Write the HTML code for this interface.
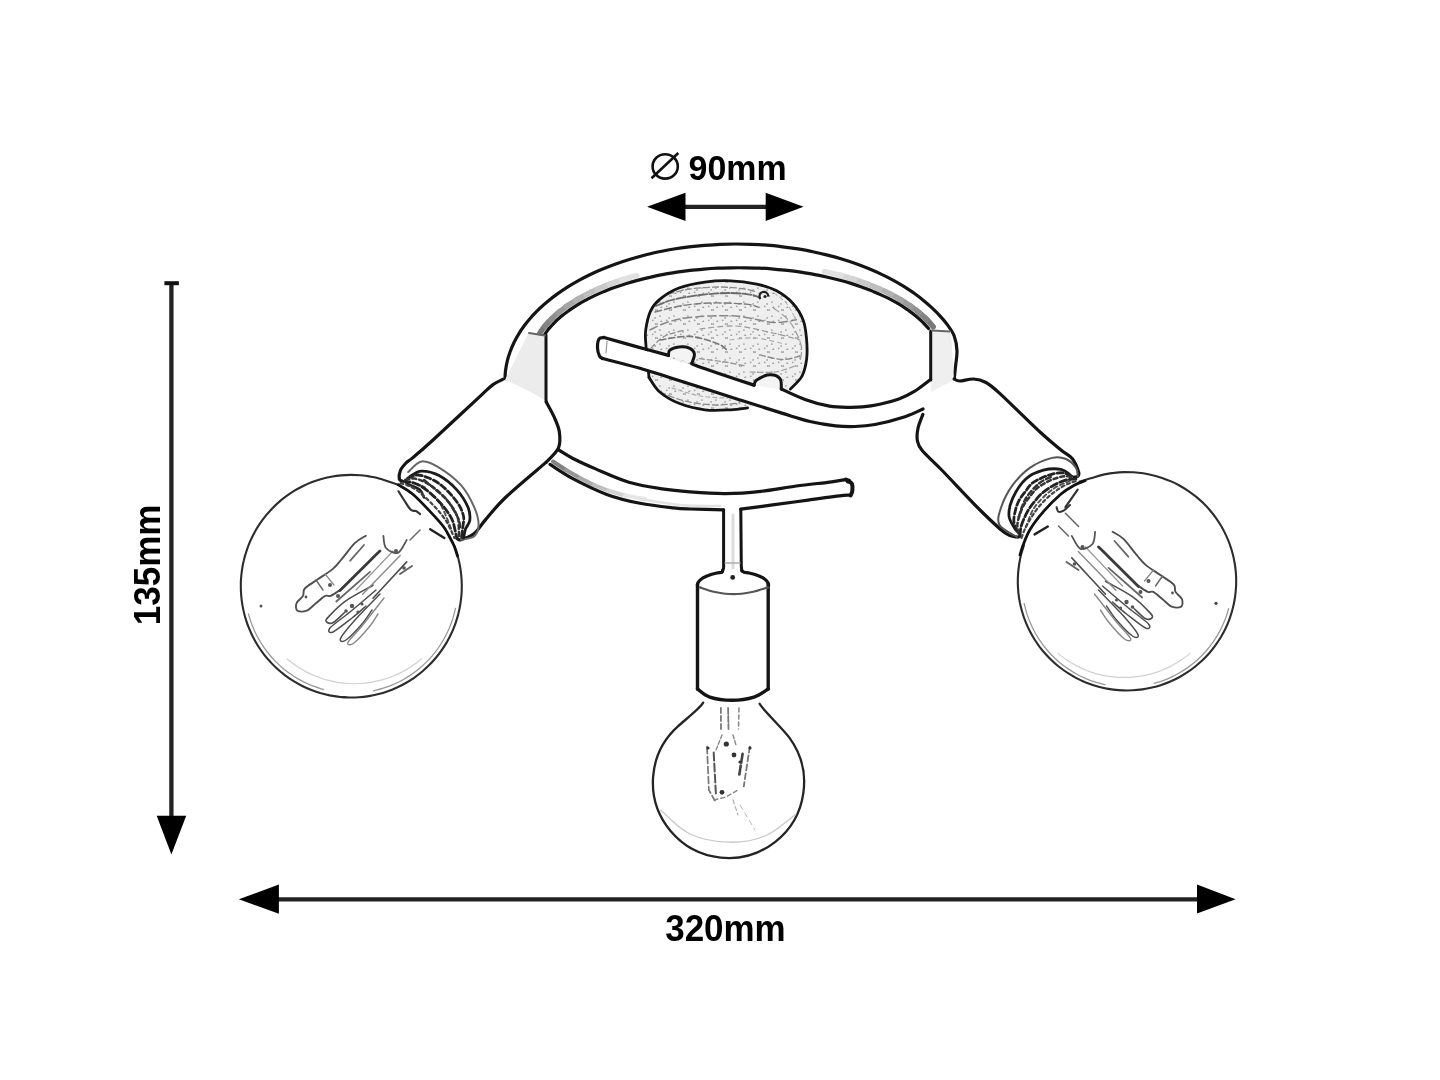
<!DOCTYPE html>
<html><head><meta charset="utf-8"><style>
html,body{margin:0;padding:0;background:#fff;}
body{width:1440px;height:1080px;overflow:hidden;font-family:"Liberation Sans",sans-serif;}
svg{display:block;filter:grayscale(1) blur(0.35px);}
</style></head><body>
<svg width="1440" height="1080" viewBox="0 0 1440 1080">
<rect width="1440" height="1080" fill="#fff"/>
<line x1="684" y1="206.8" x2="767" y2="206.8" stroke="#222" stroke-width="4.2"/>
<polygon points="647.1,206.8 685.5,192.7 685.5,221" fill="#000"/>
<polygon points="803.5,206.8 765.7,192.7 765.7,221" fill="#000"/>
<line x1="171.4" y1="283" x2="171.4" y2="817" stroke="#222" stroke-width="4.3"/>
<line x1="164.4" y1="283.2" x2="178.9" y2="283.2" stroke="#111" stroke-width="4"/>
<polygon points="156.7,815.8 186.2,815.8 171.4,854.6" fill="#000"/>
<line x1="278" y1="899.3" x2="1198" y2="899.3" stroke="#222" stroke-width="4.2"/>
<polygon points="238.9,899.3 278.9,884.4 278.9,913.7" fill="#000"/>
<polygon points="1235.6,899.3 1197,884.6 1197,913.5" fill="#000"/>
<text x="688.6" y="179.6" font-family="Liberation Sans, sans-serif" font-weight="bold" font-size="34.8" fill="#000" textLength="98" lengthAdjust="spacingAndGlyphs">90mm</text>
<ellipse cx="665.2" cy="166.4" rx="12.6" ry="12.2" fill="none" stroke="#111" stroke-width="2.6"/>
<line x1="651.5" y1="178.2" x2="678.3" y2="153" stroke="#111" stroke-width="2.6"/>
<text x="665.2" y="940.8" font-family="Liberation Sans, sans-serif" font-weight="bold" font-size="36.6" fill="#000" textLength="120.5" lengthAdjust="spacingAndGlyphs">320mm</text>
<text transform="translate(159.6,625.2) rotate(-90)" x="0" y="0" font-family="Liberation Sans, sans-serif" font-weight="bold" font-size="36.6" fill="#000" textLength="120.5" lengthAdjust="spacingAndGlyphs">135mm</text>
<path d="M539.7,333.3 C540.0,332.9 540.9,331.5 541.5,330.6 C542.2,329.7 542.8,328.8 543.5,327.9 C544.2,327.0 545.3,325.6 545.7,325.2" fill="none" stroke="#787878" stroke-width="5.5" stroke-linecap="round" stroke-linejoin="round" stroke-linecap="butt"/>
<path d="M544.8,326.2 C545.2,325.8 546.3,324.5 547.1,323.6 C547.9,322.7 548.7,321.8 549.5,321.0 C550.3,320.1 551.6,318.8 552.1,318.4" fill="none" stroke="#838383" stroke-width="5.5" stroke-linecap="round" stroke-linejoin="round" stroke-linecap="butt"/>
<path d="M551.0,319.4 C551.5,318.9 552.8,317.7 553.7,316.8 C554.6,316.0 555.6,315.1 556.5,314.3 C557.5,313.4 559.0,312.2 559.5,311.8" fill="none" stroke="#8f8f8f" stroke-width="5.5" stroke-linecap="round" stroke-linejoin="round" stroke-linecap="butt"/>
<path d="M558.3,312.8 C558.8,312.3 560.3,311.1 561.4,310.3 C562.4,309.5 563.5,308.7 564.6,307.9 C565.7,307.1 567.4,305.9 567.9,305.5" fill="none" stroke="#9b9b9b" stroke-width="5.5" stroke-linecap="round" stroke-linejoin="round" stroke-linecap="butt"/>
<path d="M566.6,306.4 C567.2,306.0 568.9,304.8 570.0,304.1 C571.2,303.3 572.4,302.5 573.6,301.8 C574.8,301.0 576.7,299.9 577.3,299.5" fill="none" stroke="#a6a6a6" stroke-width="5.5" stroke-linecap="round" stroke-linejoin="round" stroke-linecap="butt"/>
<path d="M575.9,300.4 C576.5,300.0 578.4,298.9 579.7,298.2 C580.9,297.4 582.3,296.7 583.6,296.0 C584.9,295.3 587.0,294.2 587.6,293.9" fill="none" stroke="#b2b2b2" stroke-width="5.5" stroke-linecap="round" stroke-linejoin="round" stroke-linecap="butt"/>
<path d="M586.0,294.7 C586.7,294.3 588.8,293.3 590.2,292.6 C591.6,291.9 593.0,291.3 594.4,290.6 C595.9,289.9 598.1,289.0 598.8,288.6" fill="none" stroke="#bebebe" stroke-width="5.5" stroke-linecap="round" stroke-linejoin="round" stroke-linecap="butt"/>
<path d="M597.1,289.4 C597.8,289.1 600.0,288.1 601.5,287.5 C603.0,286.8 604.5,286.2 606.1,285.6 C607.6,285.0 610.0,284.1 610.7,283.8" fill="none" stroke="#c9c9c9" stroke-width="5.5" stroke-linecap="round" stroke-linejoin="round" stroke-linecap="butt"/>
<path d="M608.9,284.5 C609.7,284.2 612.0,283.3 613.6,282.7 C615.2,282.2 616.9,281.6 618.5,281.1 C620.1,280.5 622.6,279.7 623.4,279.4" fill="none" stroke="#d5d5d5" stroke-width="5.5" stroke-linecap="round" stroke-linejoin="round" stroke-linecap="butt"/>
<path d="M621.5,280.1 C622.3,279.8 624.8,279.0 626.5,278.5 C628.2,278.0 629.8,277.5 631.6,277.0 C633.3,276.5 635.9,275.8 636.7,275.5" fill="none" stroke="#e1e1e1" stroke-width="5.5" stroke-linecap="round" stroke-linejoin="round" stroke-linecap="butt"/>
<path d="M933.2,326.7 C932.8,326.3 931.7,324.9 930.9,324.0 C930.1,323.1 929.3,322.2 928.4,321.3 C927.6,320.4 926.3,319.1 925.8,318.7" fill="none" stroke="#787878" stroke-width="5.5" stroke-linecap="round" stroke-linejoin="round" stroke-linecap="butt"/>
<path d="M926.9,319.7 C926.4,319.3 925.1,317.9 924.2,317.1 C923.2,316.2 922.3,315.3 921.3,314.5 C920.3,313.6 918.8,312.3 918.3,311.9" fill="none" stroke="#838383" stroke-width="5.5" stroke-linecap="round" stroke-linejoin="round" stroke-linecap="butt"/>
<path d="M919.5,312.9 C918.9,312.5 917.4,311.2 916.3,310.4 C915.3,309.5 914.2,308.7 913.1,307.9 C911.9,307.1 910.2,305.9 909.6,305.5" fill="none" stroke="#8f8f8f" stroke-width="5.5" stroke-linecap="round" stroke-linejoin="round" stroke-linecap="butt"/>
<path d="M911.0,306.4 C910.4,306.0 908.7,304.8 907.5,304.0 C906.3,303.2 905.1,302.4 903.8,301.6 C902.6,300.9 900.6,299.7 900.0,299.3" fill="none" stroke="#9b9b9b" stroke-width="5.5" stroke-linecap="round" stroke-linejoin="round" stroke-linecap="butt"/>
<path d="M901.5,300.2 C900.9,299.9 898.9,298.7 897.6,298.0 C896.3,297.2 895.0,296.5 893.6,295.8 C892.2,295.0 890.1,294.0 889.4,293.6" fill="none" stroke="#a6a6a6" stroke-width="5.5" stroke-linecap="round" stroke-linejoin="round" stroke-linecap="butt"/>
<path d="M891.1,294.4 C890.4,294.1 888.3,293.0 886.8,292.3 C885.4,291.6 883.9,290.9 882.4,290.3 C881.0,289.6 878.7,288.6 878.0,288.3" fill="none" stroke="#b2b2b2" stroke-width="5.5" stroke-linecap="round" stroke-linejoin="round" stroke-linecap="butt"/>
<path d="M879.7,289.0 C879.0,288.7 876.7,287.7 875.2,287.1 C873.6,286.4 872.0,285.8 870.5,285.2 C868.9,284.6 866.5,283.7 865.7,283.4" fill="none" stroke="#bebebe" stroke-width="5.5" stroke-linecap="round" stroke-linejoin="round" stroke-linecap="butt"/>
<path d="M867.6,284.1 C866.7,283.8 864.3,282.9 862.7,282.3 C861.0,281.7 859.4,281.1 857.7,280.6 C856.0,280.0 853.5,279.2 852.6,278.9" fill="none" stroke="#c9c9c9" stroke-width="5.5" stroke-linecap="round" stroke-linejoin="round" stroke-linecap="butt"/>
<path d="M854.6,279.6 C853.8,279.3 851.2,278.5 849.5,278.0 C847.7,277.4 846.0,276.9 844.2,276.4 C842.5,275.9 839.8,275.2 838.9,275.0" fill="none" stroke="#d5d5d5" stroke-width="5.5" stroke-linecap="round" stroke-linejoin="round" stroke-linecap="butt"/>
<path d="M841.0,275.6 C840.1,275.3 837.4,274.6 835.6,274.1 C833.8,273.7 832.0,273.3 830.2,272.8 C828.3,272.4 825.5,271.8 824.6,271.6" fill="none" stroke="#e1e1e1" stroke-width="5.5" stroke-linecap="round" stroke-linejoin="round" stroke-linecap="butt"/>
<path d="M504.9,379.2 C505.0,377.7 505.2,373.0 505.6,370.0 C506.0,366.9 506.6,363.8 507.3,360.8 C508.1,357.7 509.0,354.7 510.1,351.7 C511.2,348.6 512.5,345.7 513.9,342.7 C515.4,339.7 517.0,336.8 518.8,333.9 C520.5,331.0 522.5,328.1 524.6,325.3 C526.7,322.5 529.0,319.7 531.4,317.0 C533.9,314.2 536.5,311.6 539.2,308.9 C541.9,306.3 544.8,303.7 547.9,301.2 C550.9,298.7 554.1,296.3 557.4,293.9 C560.7,291.5 564.2,289.2 567.8,286.9 C571.3,284.7 575.1,282.5 578.9,280.4 C582.7,278.3 586.7,276.3 590.8,274.3 C594.8,272.4 599.0,270.5 603.3,268.8 C607.6,267.0 612.0,265.3 616.4,263.7 C620.9,262.1 625.5,260.6 630.1,259.2 C634.8,257.8 639.5,256.5 644.3,255.2 C649.1,254.0 654.0,252.9 658.9,251.8 C663.8,250.8 668.8,249.9 673.9,249.0 C678.9,248.2 684.0,247.5 689.1,246.9 C694.2,246.2 699.4,245.7 704.6,245.3 C709.7,244.9 715.0,244.5 720.2,244.3 C725.4,244.1 730.6,244.0 735.8,244.0 C741.1,244.0 746.3,244.1 751.5,244.3 C756.7,244.5 762.0,244.8 767.1,245.2 C772.3,245.6 777.5,246.2 782.6,246.8 C787.7,247.4 792.8,248.1 797.9,248.9 C802.9,249.8 807.9,250.7 812.8,251.7 C817.8,252.7 822.7,253.8 827.5,255.1 C832.3,256.3 837.0,257.6 841.7,259.0 C846.3,260.4 850.9,261.9 855.4,263.5 C859.9,265.1 864.3,266.8 868.5,268.5 C872.8,270.3 877.0,272.1 881.1,274.1 C885.2,276.0 889.1,278.0 893.0,280.1 C896.8,282.2 900.6,284.4 904.2,286.6 C907.7,288.9 911.2,291.2 914.5,293.5 C917.9,295.9 921.1,298.4 924.1,300.9 C927.2,303.4 930.1,306.0 932.8,308.6 C935.6,311.2 938.2,313.9 940.6,316.6 C943.1,319.3 945.2,321.7 947.5,324.9 C949.8,328.2 952.6,331.7 954.2,336.0 C955.8,340.3 956.8,345.6 957.0,350.6 C957.2,355.6 956.1,361.1 955.6,365.8 C955.1,370.5 954.4,376.8 954.2,379.0" fill="none" stroke="#141414" stroke-width="3.2" stroke-linecap="round" stroke-linejoin="round" />
<path d="M544.5,334.8 C545.2,333.8 547.4,330.6 549.0,328.6 C550.7,326.6 552.5,324.6 554.5,322.6 C556.4,320.6 558.5,318.7 560.8,316.8 C563.0,314.9 565.4,313.0 568.0,311.2 C570.5,309.3 573.1,307.6 575.9,305.8 C578.7,304.1 581.6,302.4 584.7,300.7 C587.7,299.1 590.9,297.5 594.1,295.9 C597.4,294.4 600.8,292.9 604.3,291.4 C607.8,290.0 611.4,288.6 615.1,287.3 C618.8,286.0 622.6,284.7 626.5,283.5 C630.4,282.3 634.3,281.2 638.4,280.1 C642.4,279.0 646.6,278.0 650.8,277.1 C655.0,276.1 659.3,275.2 663.6,274.4 C667.9,273.6 672.3,272.9 676.8,272.2 C681.2,271.6 685.7,271.0 690.2,270.4 C694.7,269.9 699.3,269.5 703.9,269.1 C708.5,268.7 713.1,268.4 717.8,268.2 C722.4,268.0 727.1,267.8 731.7,267.8 C736.4,267.7 741.0,267.7 745.7,267.8 C750.4,267.8 755.0,268.0 759.6,268.2 C764.3,268.4 768.9,268.7 773.5,269.1 C778.1,269.5 782.7,269.9 787.2,270.4 C791.7,270.9 796.2,271.5 800.7,272.2 C805.1,272.9 809.5,273.6 813.8,274.4 C818.2,275.2 822.4,276.1 826.6,277.0 C830.8,278.0 835.0,279.0 839.0,280.0 C843.1,281.1 847.1,282.2 851.0,283.4 C854.8,284.6 858.6,285.9 862.3,287.2 C866.0,288.6 869.7,289.9 873.1,291.4 C876.6,292.8 880.0,294.3 883.3,295.9 C886.6,297.4 889.8,299.0 892.8,300.7 C895.8,302.3 898.8,304.0 901.6,305.7 C904.3,307.5 907.0,309.3 909.5,311.1 C912.1,312.9 914.5,314.8 916.7,316.7 C919.0,318.6 921.1,320.5 923.0,322.5 C925.0,324.5 927.6,327.5 928.5,328.5" fill="none" stroke="#141414" stroke-width="3.2" stroke-linecap="round" stroke-linejoin="round" />
<path d="M528.0,334.0 L545.0,336.0 L546.0,400.0 L520.0,395.0 L505.0,380.0" fill="#ececec" stroke="none"/>
<path d="M931.0,331.0 L951.0,332.0 L954.0,380.0 L931.0,392.0" fill="#efefef" stroke="none"/>
<path d="M546.0,335.0 L546.0,401.5" fill="none" stroke="#141414" stroke-width="3" stroke-linecap="round" stroke-linejoin="round" />
<path d="M930.7,331.0 L930.7,380.0" fill="none" stroke="#141414" stroke-width="3" stroke-linecap="round" stroke-linejoin="round" />
<path d="M529.0,333.0 L545.0,335.5" fill="none" stroke="#666" stroke-width="2" stroke-linecap="round" stroke-linejoin="round" />
<path d="M932.0,330.5 L950.0,331.5" fill="none" stroke="#666" stroke-width="2" stroke-linecap="round" stroke-linejoin="round" />
<defs><pattern id="spk" width="14" height="14" patternUnits="userSpaceOnUse"><rect width="14" height="14" fill="#efefef"/><circle cx="11.8" cy="2.0" r="0.9" fill="#a2a2a2"/><circle cx="1.9" cy="8.1" r="0.9" fill="#a2a2a2"/><circle cx="13.4" cy="2.1" r="0.9" fill="#a2a2a2"/><circle cx="3.3" cy="13.7" r="0.9" fill="#a2a2a2"/><circle cx="3.3" cy="13.4" r="0.9" fill="#a2a2a2"/><circle cx="8.7" cy="12.3" r="0.9" fill="#a2a2a2"/><circle cx="11.1" cy="9.9" r="0.9" fill="#a2a2a2"/></pattern></defs>
<path d="M649.0,377.4 C646.7,369.4 646.3,351.7 645.8,343.7 C645.3,335.7 645.0,334.8 645.8,329.4 C646.6,324.0 648.1,316.3 650.4,311.3 C652.7,306.3 654.6,303.5 659.4,299.6 C664.1,295.7 671.3,290.9 678.9,288.0 C686.5,285.1 696.2,283.3 704.8,282.1 C713.4,280.9 722.1,280.5 730.7,280.8 C739.4,281.1 749.1,282.5 756.7,284.1 C764.3,285.7 770.1,287.4 776.1,290.6 C782.1,293.8 788.5,298.5 793.0,303.5 C797.5,308.5 801.0,314.3 803.3,320.4 C805.6,326.4 806.0,333.3 806.6,339.8 C807.2,346.3 807.4,353.2 806.6,359.3 C805.8,365.4 804.7,371.1 802.0,376.1 C799.3,381.1 794.9,385.5 790.4,389.1 C785.9,392.8 780.1,395.4 775.0,398.0 C769.9,400.6 764.6,403.4 760.0,405.0 C755.4,406.6 752.5,407.1 747.6,407.9 C742.7,408.7 737.8,409.5 730.7,409.8 C723.6,410.1 713.4,410.9 704.8,409.8 C696.2,408.7 686.5,406.3 678.9,403.3 C671.3,400.3 664.4,396.0 659.4,391.7 C654.4,387.4 651.3,385.4 649.0,377.4 Z" fill="url(#spk)" stroke="none"/>
<path d="M656.0,306.0 C658.7,305.0 664.7,301.8 672.0,300.0 C679.3,298.2 690.3,296.2 700.0,295.0 C709.7,293.8 721.3,293.0 730.0,293.0 C738.7,293.0 747.0,294.2 752.0,295.0 C757.0,295.8 758.7,297.5 760.0,298.0" fill="none" stroke="#6a6a6a" stroke-width="1.8" stroke-linecap="round" stroke-linejoin="round" stroke-dasharray="9 2"/>
<path d="M668.0,294.0 C671.7,293.2 681.3,290.2 690.0,289.0 C698.7,287.8 710.8,287.0 720.0,287.0 C729.2,287.0 739.0,288.2 745.0,289.0 C751.0,289.8 754.2,291.5 756.0,292.0" fill="none" stroke="#8a8a8a" stroke-width="1.3" stroke-linecap="round" stroke-linejoin="round" stroke-dasharray="6 3"/>
<path d="M655.0,312.0 C659.2,311.0 670.8,307.5 680.0,306.0 C689.2,304.5 699.2,303.3 710.0,303.0 C720.8,302.7 737.0,303.3 745.0,304.0 C753.0,304.7 755.8,306.5 758.0,307.0" fill="none" stroke="#7a7a7a" stroke-width="1.4" stroke-linecap="round" stroke-linejoin="round" stroke-dasharray="7 3"/>
<path d="M650.0,330.0 C653.0,328.7 660.6,324.2 668.0,322.0 C675.4,319.8 683.3,318.0 694.6,317.0 C705.9,316.0 722.9,315.1 736.0,316.0 C749.1,316.9 762.9,321.8 773.0,322.4 C783.1,323.0 792.6,320.2 796.5,319.8" fill="none" stroke="#888" stroke-width="1.5" stroke-linecap="round" stroke-linejoin="round" stroke-dasharray="8 4"/>
<path d="M660.0,340.0 C665.0,339.4 680.4,335.8 690.0,336.4 C699.6,337.0 711.6,341.5 717.8,343.8 C724.0,346.1 725.5,349.0 727.0,350.0" fill="none" stroke="#777" stroke-width="1.6" stroke-linecap="round" stroke-linejoin="round" stroke-dasharray="6 3"/>
<path d="M700.0,329.0 C706.0,328.5 723.8,325.3 736.0,326.0 C748.2,326.7 762.3,330.7 773.0,333.0 C783.7,335.3 795.5,338.8 800.0,340.0" fill="none" stroke="#999" stroke-width="1.2" stroke-linecap="round" stroke-linejoin="round" stroke-dasharray="5 4"/>
<path d="M759.4,354.9 C763.3,355.7 775.8,359.3 782.6,359.5 C789.4,359.7 797.1,356.6 800.0,356.0" fill="none" stroke="#8a8a8a" stroke-width="1.4" stroke-linecap="round" stroke-linejoin="round" stroke-dasharray="6 3"/>
<path d="M699.3,358.6 C703.6,359.2 717.3,360.8 725.0,362.0 C732.7,363.2 742.2,365.3 745.6,366.0" fill="none" stroke="#999" stroke-width="1.3" stroke-linecap="round" stroke-linejoin="round" stroke-dasharray="5 3"/>
<path d="M773.3,307.8 C776.1,310.2 785.4,315.8 790.0,322.0 C794.6,328.2 799.3,338.1 801.0,344.8 C802.7,351.5 800.2,359.1 800.0,362.0" fill="none" stroke="#9a9a9a" stroke-width="1.2" stroke-linecap="round" stroke-linejoin="round" stroke-dasharray="7 4"/>
<path d="M651.0,348.0 C653.3,346.0 659.3,339.0 665.0,336.0 C670.7,333.0 681.7,331.0 685.0,330.0" fill="none" stroke="#8a8a8a" stroke-width="1.3" stroke-linecap="round" stroke-linejoin="round" stroke-dasharray="5 3"/>
<path d="M730.0,340.0 C734.2,339.7 745.8,337.3 755.0,338.0 C764.2,338.7 780.0,343.0 785.0,344.0" fill="none" stroke="#aaa" stroke-width="1.1" stroke-linecap="round" stroke-linejoin="round" stroke-dasharray="4 4"/>
<path d="M750.0,372.0 C754.2,372.0 767.5,373.0 775.0,372.0 C782.5,371.0 791.7,367.0 795.0,366.0" fill="none" stroke="#999" stroke-width="1.2" stroke-linecap="round" stroke-linejoin="round" stroke-dasharray="5 3"/>
<path d="M660.0,392.0 C664.2,393.5 675.8,398.8 685.0,401.0 C694.2,403.2 705.8,404.7 715.0,405.0 C724.2,405.3 735.8,403.3 740.0,403.0" fill="none" stroke="#8a8a8a" stroke-width="1.3" stroke-linecap="round" stroke-linejoin="round" stroke-dasharray="6 3"/>
<path d="M672.0,388.0 C676.7,389.3 690.7,394.3 700.0,396.0 C709.3,397.7 723.3,397.7 728.0,398.0" fill="none" stroke="#aaa" stroke-width="1.1" stroke-linecap="round" stroke-linejoin="round" stroke-dasharray="4 3"/>
<path d="M774.0,293.0 C776.2,294.8 783.3,299.5 787.0,304.0 C790.7,308.5 794.5,317.3 796.0,320.0" fill="none" stroke="#aaa" stroke-width="1.0" stroke-linecap="round" stroke-linejoin="round" stroke-dasharray="4 3"/>
<path d="M649.0,377.4 C648.5,371.8 646.3,351.7 645.8,343.7 C645.3,335.7 645.0,334.8 645.8,329.4 C646.6,324.0 648.1,316.3 650.4,311.3 C652.7,306.3 654.6,303.5 659.4,299.6 C664.1,295.7 671.3,290.9 678.9,288.0 C686.5,285.1 696.2,283.3 704.8,282.1 C713.4,280.9 722.1,280.5 730.7,280.8 C739.4,281.1 749.1,282.5 756.7,284.1 C764.3,285.7 770.1,287.4 776.1,290.6 C782.1,293.8 788.5,298.5 793.0,303.5 C797.5,308.5 801.0,314.3 803.3,320.4 C805.6,326.4 806.0,333.3 806.6,339.8 C807.2,346.3 807.4,353.2 806.6,359.3 C805.8,365.4 804.7,371.1 802.0,376.1 C799.3,381.1 792.3,386.9 790.4,389.1" fill="none" stroke="#141414" stroke-width="2.8" stroke-linecap="round" stroke-linejoin="round" />
<path d="M649.0,377.4 C650.7,379.8 654.4,387.4 659.4,391.7 C664.4,396.0 671.3,400.3 678.9,403.3 C686.5,406.3 696.2,408.7 704.8,409.8 C713.4,410.9 723.6,410.1 730.7,409.8 C737.8,409.5 744.8,408.2 747.6,407.9" fill="none" stroke="#141414" stroke-width="2.8" stroke-linecap="round" stroke-linejoin="round" />
<path d="M760.5,299 A4.4,4.4 0 1 1 768.3,296.5" fill="none" stroke="#222" stroke-width="2.2"/>
<circle cx="765" cy="296.5" r="1.6" fill="#222"/>
<path d="M604.0,337.5 L754.1,385.2 L781.3,389.0 L800.0,397.0 L828.6,406.3 L863.0,406.5 L905.0,396.0 L930.7,380.0 L930.7,395.0 L923.0,409.0 L905.0,416.7 L870.0,425.0 L835.6,426.0 L782.6,412.4 L740.0,399.0 L690.0,384.0 L640.0,368.3 L602.6,358.5 Z" fill="#fff" stroke="none"/>
<path d="M668.5,355.4 C668.7,354.5 668.1,351.6 669.8,350.2 C671.5,348.8 675.6,347.3 678.9,347.0 C682.1,346.7 686.7,347.0 689.3,348.2 C691.9,349.4 694.0,351.5 694.4,354.0 C694.8,356.5 692.3,361.7 691.9,363.2 Z" fill="#f4f4f4" stroke="none"/>
<path d="M754.1,385.2 C754.5,384.3 754.1,381.7 756.7,380.0 C759.3,378.3 765.7,375.0 769.6,374.8 C773.5,374.6 778.0,376.3 780.0,378.7 C782.0,381.1 781.1,387.3 781.3,389.0 Z" fill="#f4f4f4" stroke="none"/>
<path d="M604.0,337.5 C610.0,339.2 629.2,344.6 640.0,347.6 C650.8,350.6 663.8,354.1 668.5,355.4" fill="none" stroke="#141414" stroke-width="3.2" stroke-linecap="round" stroke-linejoin="round" />
<path d="M668.5,355.4 C668.7,354.5 668.1,351.6 669.8,350.2 C671.5,348.8 675.6,347.3 678.9,347.0 C682.1,346.7 686.7,347.0 689.3,348.2 C691.9,349.4 694.0,351.5 694.4,354.0 C694.8,356.5 692.3,361.7 691.9,363.2" fill="none" stroke="#141414" stroke-width="3" stroke-linecap="round" stroke-linejoin="round" />
<path d="M691.9,363.2 C693.0,363.7 687.9,362.7 698.3,366.4 C708.7,370.1 744.8,382.1 754.1,385.2" fill="none" stroke="#141414" stroke-width="3.2" stroke-linecap="round" stroke-linejoin="round" />
<path d="M754.1,385.2 C754.5,384.3 754.1,381.7 756.7,380.0 C759.3,378.3 765.7,375.0 769.6,374.8 C773.5,374.6 778.0,376.3 780.0,378.7 C782.0,381.1 781.1,387.3 781.3,389.0" fill="none" stroke="#141414" stroke-width="3" stroke-linecap="round" stroke-linejoin="round" />
<path d="M781.3,389.0 C785.2,390.8 797.0,396.6 805.0,399.5 C813.0,402.4 821.9,404.9 829.4,406.2 C836.9,407.5 843.1,407.4 850.0,407.3 C856.9,407.2 862.9,407.2 871.0,405.8 C879.1,404.4 891.6,401.4 898.9,398.9 C906.2,396.4 909.7,394.2 915.0,391.0 C920.3,387.8 928.1,381.4 930.7,379.5" fill="none" stroke="#141414" stroke-width="3.2" stroke-linecap="round" stroke-linejoin="round" />
<path d="M602.6,358.5 C608.8,360.1 625.4,364.1 640.0,368.3 C654.6,372.6 673.3,378.7 690.0,384.0 C706.7,389.3 724.6,395.1 740.0,400.0 C755.4,404.9 770.9,409.8 782.6,413.4 C794.3,417.0 801.2,419.4 810.0,421.5 C818.8,423.6 828.1,425.0 835.6,425.8 C843.1,426.6 848.4,426.7 855.0,426.5 C861.6,426.3 866.7,426.1 875.0,424.5 C883.3,422.9 897.0,419.3 905.0,416.7 C913.0,414.1 920.0,410.3 923.0,409.0" fill="none" stroke="#141414" stroke-width="3.2" stroke-linecap="round" stroke-linejoin="round" />
<path d="M604.0,337.5 C603.2,337.8 600.1,337.2 599.0,339.0 C597.9,340.8 597.4,345.2 597.5,348.0 C597.6,350.8 598.6,354.2 599.5,356.0 C600.4,357.8 602.1,358.1 602.6,358.5" fill="none" stroke="#141414" stroke-width="3.2" stroke-linecap="round" stroke-linejoin="round" />
<path d="M607.0,341.0 L606.0,353.0" fill="none" stroke="#999" stroke-width="1.2" stroke-linecap="round" stroke-linejoin="round" />
<path d="M553.0,461.5 L566.0,470.0" fill="none" stroke="#828282" stroke-width="4" stroke-linecap="round" stroke-linejoin="round" stroke-linecap="butt"/>
<path d="M566.0,470.0 L580.0,478.0" fill="none" stroke="#969696" stroke-width="4" stroke-linecap="round" stroke-linejoin="round" stroke-linecap="butt"/>
<path d="M580.0,478.0 L594.0,485.0" fill="none" stroke="#aaaaaa" stroke-width="4" stroke-linecap="round" stroke-linejoin="round" stroke-linecap="butt"/>
<path d="M594.0,485.0 L608.0,490.5" fill="none" stroke="#bebebe" stroke-width="4" stroke-linecap="round" stroke-linejoin="round" stroke-linecap="butt"/>
<path d="M608.0,490.5 L625.0,495.5" fill="none" stroke="#d2d2d2" stroke-width="4" stroke-linecap="round" stroke-linejoin="round" stroke-linecap="butt"/>
<path d="M625.0,495.5 L645.0,499.0" fill="none" stroke="#e6e6e6" stroke-width="4" stroke-linecap="round" stroke-linejoin="round" stroke-linecap="butt"/>
<path d="M640.0,499.0 C646.7,500.0 666.7,503.8 680.0,505.0 C693.3,506.2 713.3,505.8 720.0,506.0" fill="none" stroke="#e2e2e2" stroke-width="2.5" stroke-linecap="round" stroke-linejoin="round" />
<path d="M558.9,450.0 C561.6,451.6 568.9,456.4 575.0,459.5 C581.1,462.6 586.6,465.1 595.6,468.9 C604.6,472.7 617.8,478.9 628.9,482.2 C640.0,485.5 652.0,487.3 662.2,488.9 C672.4,490.5 679.5,491.1 690.0,491.9 C700.5,492.7 713.6,493.7 725.4,493.6 C737.2,493.5 749.0,492.6 760.8,491.3 C772.6,490.0 784.5,487.6 796.3,486.0 C808.1,484.4 823.5,482.9 831.7,481.8 C840.0,480.7 843.4,479.9 845.8,479.5" fill="none" stroke="#141414" stroke-width="3.2" stroke-linecap="round" stroke-linejoin="round" />
<path d="M550.0,464.4 C553.9,466.8 563.8,473.9 573.3,478.9 C582.8,483.9 595.6,490.3 606.7,494.4 C617.8,498.5 628.9,501.1 640.0,503.3 C651.1,505.5 665.0,506.9 673.3,507.8 C681.6,508.8 681.6,508.7 690.0,509.0 C698.4,509.3 718.0,509.7 723.6,509.8" fill="none" stroke="#141414" stroke-width="3.2" stroke-linecap="round" stroke-linejoin="round" />
<path d="M740.8,509.2 C746.1,508.5 761.4,506.4 772.6,504.9 C783.8,503.4 796.2,501.7 808.0,500.1 C819.8,498.5 836.4,496.2 843.5,495.4 C850.6,494.6 849.4,495.4 850.6,495.4" fill="none" stroke="#141414" stroke-width="3.2" stroke-linecap="round" stroke-linejoin="round" />
<path d="M845.8,479.5 C846.8,480.2 850.6,481.7 851.7,483.6 C852.8,485.5 852.5,489.0 852.3,491.0 C852.1,493.0 850.9,494.7 850.6,495.4" fill="none" stroke="#141414" stroke-width="4" stroke-linecap="round" stroke-linejoin="round" />
<circle cx="848.5" cy="481" r="2.6" fill="#111"/>
<path d="M723.6,509.8 L723.6,568.0 L722.6,571.0" fill="none" stroke="#141414" stroke-width="3" stroke-linecap="round" stroke-linejoin="round" />
<path d="M740.8,509.2 L741.3,566.0 L741.8,571.0" fill="none" stroke="#141414" stroke-width="3" stroke-linecap="round" stroke-linejoin="round" />
<path d="M733.0,515.0 L733.0,568.0" fill="none" stroke="#dcdcdc" stroke-width="3" stroke-linecap="round" stroke-linejoin="round" />
<path d="M725.0,563.0 L740.0,563.0" fill="none" stroke="#aaa" stroke-width="1.4" stroke-linecap="round" stroke-linejoin="round" />
<path d="M697.5,689.0 L697.5,584.0" fill="none" stroke="#141414" stroke-width="3.4" stroke-linecap="round" stroke-linejoin="round" />
<path d="M768.2,584.0 L768.2,689.0" fill="none" stroke="#141414" stroke-width="3.4" stroke-linecap="round" stroke-linejoin="round" />
<path d="M697.4,585.5 C697.4,585.2 697.5,584.3 697.7,583.7 C697.9,583.2 698.1,582.6 698.5,582.0 C698.9,581.5 699.4,580.9 699.9,580.3 C700.4,579.8 701.1,579.3 701.8,578.8 C702.5,578.2 703.3,577.7 704.2,577.3 C705.1,576.8 706.0,576.3 707.0,575.9 C708.1,575.5 709.2,575.1 710.3,574.7 C711.5,574.3 712.7,574.0 713.9,573.7 C715.2,573.4 716.5,573.1 717.8,572.8 C719.2,572.6 721.2,572.6 722.0,572.2 C722.8,571.8 722.5,570.8 722.6,570.5" fill="none" stroke="#141414" stroke-width="3.2" stroke-linecap="round" stroke-linejoin="round" />
<path d="M741.8,570.5 C742.2,570.8 742.9,571.8 744.0,572.2 C745.1,572.6 746.8,572.6 748.2,572.8 C749.5,573.1 750.8,573.4 752.1,573.7 C753.3,574.0 754.5,574.3 755.7,574.7 C756.8,575.1 757.9,575.5 759.0,575.9 C760.0,576.3 760.9,576.8 761.8,577.3 C762.7,577.7 763.5,578.2 764.2,578.8 C764.9,579.3 765.6,579.8 766.1,580.3 C766.6,580.9 767.1,581.5 767.5,582.0 C767.9,582.6 768.1,583.2 768.3,583.7 C768.5,584.3 768.6,585.2 768.6,585.5" fill="none" stroke="#141414" stroke-width="3.2" stroke-linecap="round" stroke-linejoin="round" />
<path d="M699.9,587.4 C702.4,588.2 709.4,590.9 715.0,592.0 C720.6,593.1 727.3,594.2 733.5,594.2 C739.7,594.2 746.3,593.1 752.0,592.0 C757.7,590.9 765.2,588.2 767.9,587.4" fill="none" stroke="#555" stroke-width="2.2" stroke-linecap="round" stroke-linejoin="round" />
<path d="M697.5,689.0 C699.5,690.4 704.0,695.2 709.7,697.1 C715.4,699.0 724.5,700.3 731.9,700.3 C739.3,700.3 748.0,699.0 754.0,697.1 C760.0,695.2 765.8,690.4 768.2,689.0" fill="none" stroke="#141414" stroke-width="3.4" stroke-linecap="round" stroke-linejoin="round" />
<circle cx="732.7" cy="577.4" r="2.4" fill="#222"/>
<path d="M703.2,702.6 C700.6,708.1 685.3,719.6 677.9,726.3 A75.6,75.6 0 1 0 789.7,738.1 C782.6,728.4 762.2,709.3 759.6,703.8" fill="none" stroke="#242424" stroke-width="2.3" stroke-linecap="round" stroke-linejoin="round" />
<path d="M660.8,810.3 C665.7,814.2 678.6,828.7 690.0,834.0 C701.4,839.3 716.4,841.9 728.9,842.2 C741.4,842.5 753.9,840.6 765.0,836.0 C776.1,831.4 790.5,818.0 795.6,814.4" fill="none" stroke="#c8c8c8" stroke-width="1.3" stroke-linecap="round" stroke-linejoin="round" />
<path d="M720.9,708.0 L721.0,729.0" fill="none" stroke="#7a7a7a" stroke-width="1.8" stroke-linecap="round" stroke-linejoin="round" stroke-dasharray="5 3"/>
<path d="M728.1,708.0 L728.5,729.0" fill="none" stroke="#7a7a7a" stroke-width="1.8" stroke-linecap="round" stroke-linejoin="round" stroke-dasharray="6 2"/>
<path d="M739.0,708.0 L738.5,729.0" fill="none" stroke="#8a8a8a" stroke-width="1.6" stroke-linecap="round" stroke-linejoin="round" stroke-dasharray="4 3"/>
<path d="M707.0,746.6 L708.9,790.0 L714.9,800.7" fill="none" stroke="#777" stroke-width="1.7" stroke-linecap="round" stroke-linejoin="round" stroke-dasharray="7 3"/>
<path d="M713.7,752.6 L716.0,796.0" fill="none" stroke="#555" stroke-width="2.0" stroke-linecap="round" stroke-linejoin="round" stroke-dasharray="8 3"/>
<path d="M749.8,746.6 L743.8,786.3" fill="none" stroke="#777" stroke-width="1.8" stroke-linecap="round" stroke-linejoin="round" stroke-dasharray="6 3"/>
<path d="M742.6,753.8 L739.0,776.6" fill="none" stroke="#444" stroke-width="2.6" stroke-linecap="round" stroke-linejoin="round" stroke-dasharray="9 3"/>
<path d="M722.0,735.0 L716.0,750.0" fill="none" stroke="#888" stroke-width="1.4" stroke-linecap="round" stroke-linejoin="round" stroke-dasharray="4 2"/>
<path d="M733.0,735.0 L736.0,745.0" fill="none" stroke="#888" stroke-width="1.4" stroke-linecap="round" stroke-linejoin="round" stroke-dasharray="4 2"/>
<path d="M714.0,800.0 L726.0,797.0 L738.0,790.0" fill="none" stroke="#888" stroke-width="1.4" stroke-linecap="round" stroke-linejoin="round" stroke-dasharray="4 3"/>
<path d="M733.0,800.0 L738.0,815.0" fill="none" stroke="#aaa" stroke-width="1.1" stroke-linecap="round" stroke-linejoin="round" stroke-dasharray="4 3"/>
<path d="M740.0,805.0 L755.0,830.0" fill="none" stroke="#bbb" stroke-width="1.0" stroke-linecap="round" stroke-linejoin="round" stroke-dasharray="5 4"/>
<circle cx="726.3" cy="744" r="2.6" fill="#333"/>
<circle cx="734" cy="755" r="2.4" fill="#333"/>
<circle cx="722" cy="792.3" r="2.4" fill="#333"/>
<circle cx="708" cy="748" r="1.6" fill="#333"/>
<circle cx="750" cy="748" r="1.6" fill="#333"/>
<circle cx="740" cy="762" r="1.6" fill="#333"/>
<g><path d="M365.9,535.7 C364.0,536.9 358.8,539.2 354.8,543.1 C350.8,547.0 345.6,554.6 341.9,558.9 C338.2,563.2 336.6,565.7 332.6,569.1 C328.6,572.5 322.4,576.1 317.8,579.3 C313.2,582.5 307.3,585.7 304.8,588.5 C302.3,591.3 304.4,593.4 303.0,595.9 C301.6,598.4 297.4,600.8 296.5,603.3 C295.6,605.8 295.7,609.5 297.4,610.7 C299.1,611.9 303.6,611.9 306.7,610.7 C309.8,609.5 312.8,605.8 315.9,603.3 C319.0,600.8 322.7,597.1 325.2,595.9 C327.7,594.7 328.2,596.9 330.7,595.9 C333.2,594.9 338.4,591.0 340.0,590.0" fill="none" stroke="#4e4e4e" stroke-width="1.9" stroke-linecap="round" stroke-linejoin="round"/><path d="M380.0,551.0 C378.3,552.6 376.7,554.1 370.0,560.7 C363.3,567.3 345.0,585.5 340.0,590.4" fill="none" stroke="#3a3a3a" stroke-width="2.8" stroke-linecap="round" stroke-linejoin="round"/><path d="M370.0,571.9 L336.3,601.5" fill="none" stroke="#666" stroke-width="1.8" stroke-linecap="round" stroke-linejoin="round"/><path d="M364.0,545.0 L350.2,560.7" fill="none" stroke="#666" stroke-width="1.8" stroke-linecap="round" stroke-linejoin="round"/><path d="M373.0,585.2 C368.5,587.8 353.2,595.6 345.8,600.8 C338.4,606.0 332.1,612.9 328.9,616.4 C325.6,619.9 325.6,620.4 326.3,621.5 C327.0,622.6 329.8,624.3 332.8,622.8 C335.8,621.3 342.6,614.2 344.5,612.5" fill="none" stroke="#4e4e4e" stroke-width="1.6" stroke-linecap="round" stroke-linejoin="round"/><path d="M376.0,590.0 C371.7,593.7 357.7,605.7 350.0,612.0 C342.3,618.3 332.8,624.7 330.0,628.0 C327.2,631.3 329.3,633.7 333.0,632.0 C336.7,630.3 346.5,622.3 352.0,618.0 C357.5,613.7 363.7,608.0 366.0,606.0" fill="none" stroke="#4e4e4e" stroke-width="1.5" stroke-linecap="round" stroke-linejoin="round"/><path d="M380.0,594.0 C375.8,598.3 361.6,612.6 355.0,620.0 C348.4,627.4 342.1,635.1 340.6,638.4 C339.1,641.7 342.4,642.4 346.0,640.0 C349.6,637.6 357.7,629.0 362.0,624.0 C366.3,619.0 370.3,612.3 372.0,610.0" fill="none" stroke="#4e4e4e" stroke-width="1.5" stroke-linecap="round" stroke-linejoin="round"/><path d="M384.0,598.0 C380.3,602.7 368.0,618.6 362.0,626.0 C356.0,633.4 349.3,639.5 348.0,642.3 C346.7,645.1 350.3,645.7 354.0,643.0 C357.7,640.3 366.0,630.8 370.0,626.0 C374.0,621.2 376.7,616.0 378.0,614.0" fill="none" stroke="#888" stroke-width="1.4" stroke-linecap="round" stroke-linejoin="round"/><path d="M406.7,561.9 L373.0,598.2" fill="none" stroke="#4e4e4e" stroke-width="1.6" stroke-linecap="round" stroke-linejoin="round"/><path d="M400.2,555.4 L362.6,594.3" fill="none" stroke="#8a8a8a" stroke-width="1.4" stroke-linecap="round" stroke-linejoin="round"/><path d="M393.0,551.0 L356.0,590.0" fill="none" stroke="#999" stroke-width="1.2" stroke-linecap="round" stroke-linejoin="round"/><path d="M383.4,536.0 C383.8,538.0 383.6,545.2 386.0,548.0 C388.4,550.8 394.6,554.1 398.0,552.8 C401.4,551.5 405.2,542.1 406.7,540.0" fill="none" stroke="#555" stroke-width="1.8" stroke-linecap="round" stroke-linejoin="round"/><path d="M410.0,540.0 L420.0,530.0" fill="none" stroke="#666" stroke-width="1.5" stroke-linecap="round" stroke-linejoin="round"/><path d="M412.0,566.0 L400.0,574.0" fill="none" stroke="#666" stroke-width="2.0" stroke-linecap="round" stroke-linejoin="round"/><path d="M316.0,580.0 L323.0,590.0" fill="none" stroke="#666" stroke-width="1.4" stroke-linecap="round" stroke-linejoin="round"/><path d="M325.0,574.0 L334.0,585.0" fill="none" stroke="#888" stroke-width="1.2" stroke-linecap="round" stroke-linejoin="round"/><circle cx="330" cy="585" r="2.0" fill="#555"/><circle cx="338" cy="596" r="2.0" fill="#555"/><circle cx="352" cy="606" r="2.2" fill="#555"/><circle cx="346" cy="611" r="1.8" fill="#555"/><circle cx="396" cy="551" r="2.0" fill="#555"/><circle cx="404" cy="568" r="1.8" fill="#555"/><circle cx="306" cy="597" r="1.4" fill="#555"/><circle cx="362" cy="604" r="1.6" fill="#555"/><circle cx="358" cy="612" r="1.6" fill="#555"/></g>
<g transform="matrix(-1,0,0,1,1478.5,-4)"><path d="M365.9,535.7 C364.0,536.9 358.8,539.2 354.8,543.1 C350.8,547.0 345.6,554.6 341.9,558.9 C338.2,563.2 336.6,565.7 332.6,569.1 C328.6,572.5 322.4,576.1 317.8,579.3 C313.2,582.5 307.3,585.7 304.8,588.5 C302.3,591.3 304.4,593.4 303.0,595.9 C301.6,598.4 297.4,600.8 296.5,603.3 C295.6,605.8 295.7,609.5 297.4,610.7 C299.1,611.9 303.6,611.9 306.7,610.7 C309.8,609.5 312.8,605.8 315.9,603.3 C319.0,600.8 322.7,597.1 325.2,595.9 C327.7,594.7 328.2,596.9 330.7,595.9 C333.2,594.9 338.4,591.0 340.0,590.0" fill="none" stroke="#4e4e4e" stroke-width="1.9" stroke-linecap="round" stroke-linejoin="round"/><path d="M380.0,551.0 C378.3,552.6 376.7,554.1 370.0,560.7 C363.3,567.3 345.0,585.5 340.0,590.4" fill="none" stroke="#3a3a3a" stroke-width="2.8" stroke-linecap="round" stroke-linejoin="round"/><path d="M370.0,571.9 L336.3,601.5" fill="none" stroke="#666" stroke-width="1.8" stroke-linecap="round" stroke-linejoin="round"/><path d="M364.0,545.0 L350.2,560.7" fill="none" stroke="#666" stroke-width="1.8" stroke-linecap="round" stroke-linejoin="round"/><path d="M373.0,585.2 C368.5,587.8 353.2,595.6 345.8,600.8 C338.4,606.0 332.1,612.9 328.9,616.4 C325.6,619.9 325.6,620.4 326.3,621.5 C327.0,622.6 329.8,624.3 332.8,622.8 C335.8,621.3 342.6,614.2 344.5,612.5" fill="none" stroke="#4e4e4e" stroke-width="1.6" stroke-linecap="round" stroke-linejoin="round"/><path d="M376.0,590.0 C371.7,593.7 357.7,605.7 350.0,612.0 C342.3,618.3 332.8,624.7 330.0,628.0 C327.2,631.3 329.3,633.7 333.0,632.0 C336.7,630.3 346.5,622.3 352.0,618.0 C357.5,613.7 363.7,608.0 366.0,606.0" fill="none" stroke="#4e4e4e" stroke-width="1.5" stroke-linecap="round" stroke-linejoin="round"/><path d="M380.0,594.0 C375.8,598.3 361.6,612.6 355.0,620.0 C348.4,627.4 342.1,635.1 340.6,638.4 C339.1,641.7 342.4,642.4 346.0,640.0 C349.6,637.6 357.7,629.0 362.0,624.0 C366.3,619.0 370.3,612.3 372.0,610.0" fill="none" stroke="#4e4e4e" stroke-width="1.5" stroke-linecap="round" stroke-linejoin="round"/><path d="M384.0,598.0 C380.3,602.7 368.0,618.6 362.0,626.0 C356.0,633.4 349.3,639.5 348.0,642.3 C346.7,645.1 350.3,645.7 354.0,643.0 C357.7,640.3 366.0,630.8 370.0,626.0 C374.0,621.2 376.7,616.0 378.0,614.0" fill="none" stroke="#888" stroke-width="1.4" stroke-linecap="round" stroke-linejoin="round"/><path d="M406.7,561.9 L373.0,598.2" fill="none" stroke="#4e4e4e" stroke-width="1.6" stroke-linecap="round" stroke-linejoin="round"/><path d="M400.2,555.4 L362.6,594.3" fill="none" stroke="#8a8a8a" stroke-width="1.4" stroke-linecap="round" stroke-linejoin="round"/><path d="M393.0,551.0 L356.0,590.0" fill="none" stroke="#999" stroke-width="1.2" stroke-linecap="round" stroke-linejoin="round"/><path d="M383.4,536.0 C383.8,538.0 383.6,545.2 386.0,548.0 C388.4,550.8 394.6,554.1 398.0,552.8 C401.4,551.5 405.2,542.1 406.7,540.0" fill="none" stroke="#555" stroke-width="1.8" stroke-linecap="round" stroke-linejoin="round"/><path d="M410.0,540.0 L420.0,530.0" fill="none" stroke="#666" stroke-width="1.5" stroke-linecap="round" stroke-linejoin="round"/><path d="M412.0,566.0 L400.0,574.0" fill="none" stroke="#666" stroke-width="2.0" stroke-linecap="round" stroke-linejoin="round"/><path d="M316.0,580.0 L323.0,590.0" fill="none" stroke="#666" stroke-width="1.4" stroke-linecap="round" stroke-linejoin="round"/><path d="M325.0,574.0 L334.0,585.0" fill="none" stroke="#888" stroke-width="1.2" stroke-linecap="round" stroke-linejoin="round"/><circle cx="330" cy="585" r="2.0" fill="#555"/><circle cx="338" cy="596" r="2.0" fill="#555"/><circle cx="352" cy="606" r="2.2" fill="#555"/><circle cx="346" cy="611" r="1.8" fill="#555"/><circle cx="396" cy="551" r="2.0" fill="#555"/><circle cx="404" cy="568" r="1.8" fill="#555"/><circle cx="306" cy="597" r="1.4" fill="#555"/><circle cx="362" cy="604" r="1.6" fill="#555"/><circle cx="358" cy="612" r="1.6" fill="#555"/></g>
<path d="M454.3,546.0 C454.8,547.5 456.6,552.2 457.5,555.3 C458.4,558.5 459.1,561.7 459.8,565.0 C460.4,568.2 460.9,571.5 461.2,574.8 C461.6,578.1 461.7,581.4 461.8,584.7 C461.8,588.0 461.7,591.3 461.5,594.6 C461.2,597.9 460.8,601.2 460.3,604.4 C459.8,607.7 459.1,610.9 458.3,614.1 C457.4,617.3 456.5,620.5 455.4,623.6 C454.3,626.7 453.0,629.8 451.7,632.8 C450.3,635.8 448.8,638.7 447.2,641.6 C445.5,644.4 443.8,647.2 441.9,649.9 C440.0,652.6 438.0,655.3 435.9,657.8 C433.8,660.3 431.6,662.8 429.2,665.1 C426.9,667.4 424.5,669.7 422.0,671.8 C419.4,673.9 416.8,675.9 414.1,677.8 C411.4,679.6 408.6,681.4 405.8,683.0 C402.9,684.7 400.0,686.2 397.0,687.5 C394.0,688.9 391.0,690.1 387.9,691.2 C384.8,692.3 381.7,693.3 378.5,694.1 C375.3,694.9 372.1,695.6 368.8,696.1 C365.6,696.6 362.3,697.0 359.1,697.2 C355.8,697.5 352.5,697.5 349.2,697.5 C346.0,697.4 342.7,697.2 339.4,696.9 C336.2,696.5 332.9,696.0 329.7,695.4 C326.5,694.7 323.3,693.9 320.1,693.0 C317.0,692.0 313.9,691.0 310.8,689.8 C307.8,688.6 304.8,687.2 301.8,685.7 C298.9,684.3 296.0,682.6 293.2,680.9 C290.5,679.2 287.7,677.3 285.1,675.3 C282.5,673.3 279.9,671.2 277.5,669.0 C275.1,666.8 272.7,664.5 270.5,662.1 C268.2,659.7 266.1,657.2 264.1,654.6 C262.1,652.0 260.2,649.3 258.4,646.5 C256.6,643.7 255.0,640.8 253.5,637.9 C251.9,635.0 250.5,632.0 249.3,628.9 C248.0,625.9 246.9,622.8 245.9,619.6 C244.9,616.5 244.1,613.3 243.4,610.1 C242.7,606.8 242.1,603.6 241.7,600.3 C241.3,597.0 241.0,593.7 240.9,590.4 C240.8,587.1 240.8,583.8 240.9,580.5 C241.1,577.2 241.4,573.9 241.9,570.6 C242.3,567.4 242.9,564.1 243.7,560.9 C244.4,557.7 245.3,554.5 246.4,551.4 C247.4,548.2 248.5,545.1 249.8,542.1 C251.1,539.1 252.6,536.1 254.1,533.2 C255.7,530.3 257.4,527.4 259.2,524.7 C261.0,521.9 263.0,519.3 265.0,516.7 C267.1,514.1 269.2,511.6 271.5,509.2 C273.8,506.8 276.1,504.5 278.6,502.4 C281.1,500.2 283.6,498.1 286.3,496.2 C288.9,494.3 291.7,492.4 294.5,490.7 C297.3,489.0 300.2,487.5 303.2,486.0 C306.1,484.6 309.1,483.3 312.2,482.1 C315.3,480.9 318.4,479.9 321.5,479.0 C324.7,478.1 327.9,477.4 331.1,476.8 C334.4,476.2 337.6,475.7 340.9,475.4 C344.1,475.1 347.4,474.9 350.7,474.9 C354.0,474.9 357.3,475.0 360.5,475.3 C363.8,475.6 367.1,476.0 370.3,476.6 C373.5,477.1 375.2,477.3 379.9,478.7 C384.6,480.1 395.2,483.8 398.3,484.8" fill="none" stroke="#2c2c2c" stroke-width="2.1" stroke-linecap="round" stroke-linejoin="round" />
<path d="M455.5,608.4 C455.0,610.1 453.9,615.1 452.9,618.4 C451.8,621.6 450.7,624.9 449.3,628.0 C448.0,631.2 446.5,634.3 444.9,637.3 C443.3,640.3 441.5,643.2 439.6,646.0 C437.7,648.9 435.6,651.6 433.5,654.3 C431.3,656.9 429.0,659.4 426.6,661.9 C424.2,664.3 421.7,666.6 419.0,668.8 C416.4,670.9 413.7,673.0 410.9,674.9 C408.0,676.8 405.1,678.6 402.1,680.2 C399.1,681.9 396.0,683.4 392.9,684.7 C389.8,686.0 386.6,687.2 383.3,688.2 C380.1,689.3 375.1,690.4 373.4,690.9" fill="none" stroke="#9a9a9a" stroke-width="1.3" stroke-linecap="round" stroke-linejoin="round" />
<path d="M323.7,689.6 C322.3,689.1 317.8,687.8 314.9,686.7 C312.0,685.7 309.1,684.5 306.3,683.2 C303.5,681.9 300.7,680.4 298.1,678.9 C295.4,677.3 292.7,675.6 290.2,673.8 C287.7,672.1 285.2,670.2 282.8,668.2 C280.5,666.2 278.2,664.1 276.0,661.9 C273.8,659.7 271.7,657.4 269.7,655.0 C267.7,652.6 265.8,650.1 264.1,647.6 C262.3,645.0 260.6,642.4 259.1,639.7 C257.5,637.0 256.1,634.2 254.8,631.4 C253.5,628.6 252.3,625.7 251.2,622.8 C250.2,619.9 248.9,615.4 248.4,613.9" fill="none" stroke="#9a9a9a" stroke-width="1.3" stroke-linecap="round" stroke-linejoin="round" />
<path d="M421.5,659.0 C420.0,660.2 415.6,663.7 412.5,665.8 C409.4,667.9 406.2,669.9 402.9,671.6 C399.6,673.4 396.1,674.9 392.7,676.3 C389.2,677.7 385.6,678.9 382.0,679.9 C378.4,680.9 374.7,681.7 371.1,682.3 C367.4,682.9 363.6,683.3 359.9,683.5 C356.2,683.8 352.4,683.8 348.7,683.5 C345.0,683.3 341.2,682.9 337.5,682.3 C333.9,681.7 330.2,680.9 326.6,679.9 C323.0,678.9 319.4,677.7 315.9,676.3 C312.5,674.9 309.0,673.4 305.7,671.6 C302.4,669.9 299.2,667.9 296.1,665.8 C293.0,663.7 288.6,660.2 287.1,659.0" fill="none" stroke="#d0d0d0" stroke-width="1.2" stroke-linecap="round" stroke-linejoin="round" />
<path d="M1079.6,481.6 C1082.2,480.8 1090.9,478.1 1095.1,476.9 C1099.2,475.7 1101.3,475.1 1104.5,474.4 C1107.7,473.8 1110.9,473.2 1114.1,472.9 C1117.3,472.5 1120.6,472.2 1123.8,472.1 C1127.0,472.1 1130.3,472.1 1133.5,472.3 C1136.7,472.5 1140.0,472.8 1143.2,473.3 C1146.4,473.8 1149.6,474.4 1152.7,475.2 C1155.9,475.9 1159.0,476.8 1162.1,477.9 C1165.1,478.9 1168.2,480.1 1171.1,481.4 C1174.1,482.7 1177.0,484.2 1179.8,485.7 C1182.7,487.3 1185.5,489.0 1188.1,490.8 C1190.8,492.6 1193.4,494.6 1196.0,496.6 C1198.5,498.7 1200.9,500.8 1203.2,503.1 C1205.5,505.4 1207.8,507.7 1209.9,510.2 C1212.0,512.6 1214.0,515.2 1215.9,517.8 C1217.8,520.5 1219.5,523.2 1221.2,526.0 C1222.8,528.8 1224.3,531.7 1225.7,534.6 C1227.1,537.5 1228.4,540.5 1229.5,543.6 C1230.6,546.6 1231.6,549.7 1232.4,552.8 C1233.3,556.0 1234.0,559.1 1234.5,562.3 C1235.1,565.5 1235.5,568.7 1235.8,572.0 C1236.1,575.2 1236.2,578.5 1236.2,581.7 C1236.2,584.9 1236.0,588.2 1235.7,591.4 C1235.4,594.6 1235.0,597.9 1234.4,601.0 C1233.8,604.2 1233.1,607.4 1232.2,610.5 C1231.4,613.6 1230.3,616.7 1229.2,619.8 C1228.1,622.8 1226.8,625.8 1225.4,628.7 C1224.0,631.6 1222.4,634.5 1220.8,637.3 C1219.1,640.1 1217.3,642.8 1215.4,645.4 C1213.5,648.0 1211.5,650.6 1209.4,653.0 C1207.2,655.4 1205.0,657.8 1202.7,660.1 C1200.3,662.3 1197.9,664.4 1195.3,666.5 C1192.8,668.5 1190.2,670.4 1187.5,672.2 C1184.8,674.0 1182.0,675.7 1179.2,677.2 C1176.3,678.8 1173.4,680.2 1170.4,681.5 C1167.4,682.8 1164.4,683.9 1161.3,685.0 C1158.3,686.0 1155.1,686.9 1152.0,687.6 C1148.8,688.3 1145.6,688.9 1142.4,689.4 C1139.2,689.9 1136.0,690.2 1132.7,690.3 C1129.5,690.5 1126.2,690.5 1123.0,690.4 C1119.8,690.3 1116.5,690.0 1113.3,689.6 C1110.1,689.2 1106.9,688.7 1103.7,688.0 C1100.6,687.3 1097.4,686.5 1094.3,685.5 C1091.2,684.5 1088.2,683.4 1085.2,682.2 C1082.2,680.9 1079.2,679.6 1076.4,678.1 C1073.5,676.6 1070.7,674.9 1068.0,673.2 C1065.2,671.4 1062.6,669.5 1060.0,667.5 C1057.5,665.6 1055.0,663.5 1052.6,661.2 C1050.2,659.0 1048.0,656.7 1045.8,654.3 C1043.6,651.9 1041.6,649.4 1039.6,646.8 C1037.7,644.2 1035.8,641.5 1034.1,638.8 C1032.4,636.0 1030.8,633.2 1029.4,630.3 C1027.9,627.4 1026.6,624.4 1025.4,621.4 C1024.2,618.4 1023.2,615.3 1022.3,612.2 C1021.3,609.1 1020.6,605.9 1019.9,602.8 C1019.3,599.6 1018.8,596.4 1018.4,593.1 C1018.1,589.9 1017.9,586.7 1017.8,583.4 C1017.8,580.2 1017.8,576.9 1018.1,573.7 C1018.3,570.5 1018.7,567.2 1019.2,564.0 C1019.7,560.8 1020.3,557.7 1021.1,554.5 C1021.9,551.4 1023.5,546.8 1023.9,545.2" fill="none" stroke="#2c2c2c" stroke-width="2.1" stroke-linecap="round" stroke-linejoin="round" />
<path d="M1105.1,684.7 C1103.5,684.3 1098.6,683.1 1095.4,682.1 C1092.2,681.1 1089.0,679.9 1085.9,678.6 C1082.8,677.3 1079.8,675.8 1076.8,674.2 C1073.8,672.6 1071.0,670.8 1068.2,668.9 C1065.4,667.0 1062.7,665.0 1060.1,662.9 C1057.5,660.7 1055.0,658.4 1052.6,656.0 C1050.2,653.7 1048.0,651.1 1045.8,648.5 C1043.7,645.9 1041.7,643.2 1039.8,640.4 C1037.9,637.6 1036.2,634.7 1034.5,631.7 C1032.9,628.8 1031.5,625.7 1030.2,622.6 C1028.8,619.5 1027.7,616.3 1026.7,613.1 C1025.7,609.9 1024.5,604.9 1024.1,603.3" fill="none" stroke="#9a9a9a" stroke-width="1.3" stroke-linecap="round" stroke-linejoin="round" />
<path d="M1228.6,608.7 C1228.2,610.1 1226.9,614.6 1225.9,617.5 C1224.8,620.3 1223.6,623.2 1222.3,626.0 C1221.1,628.8 1219.6,631.5 1218.1,634.1 C1216.6,636.8 1214.9,639.4 1213.2,641.9 C1211.4,644.4 1209.6,646.9 1207.6,649.2 C1205.6,651.6 1203.5,653.9 1201.4,656.0 C1199.2,658.2 1197.0,660.3 1194.6,662.3 C1192.3,664.2 1189.8,666.1 1187.3,667.9 C1184.8,669.6 1182.2,671.3 1179.6,672.8 C1177.0,674.4 1174.2,675.8 1171.5,677.1 C1168.7,678.4 1165.9,679.6 1163.0,680.6 C1160.1,681.7 1155.7,682.9 1154.2,683.4" fill="none" stroke="#9a9a9a" stroke-width="1.3" stroke-linecap="round" stroke-linejoin="round" />
<path d="M1190.3,653.1 C1188.9,654.2 1184.5,657.8 1181.5,659.8 C1178.4,661.9 1175.2,663.8 1172.0,665.6 C1168.7,667.3 1165.3,668.9 1161.9,670.2 C1158.5,671.6 1154.9,672.8 1151.4,673.8 C1147.8,674.8 1144.2,675.6 1140.6,676.2 C1136.9,676.7 1133.2,677.1 1129.5,677.3 C1125.9,677.5 1122.1,677.5 1118.5,677.3 C1114.8,677.1 1111.1,676.7 1107.4,676.2 C1103.8,675.6 1100.2,674.8 1096.6,673.8 C1093.1,672.8 1089.5,671.6 1086.1,670.2 C1082.7,668.9 1079.3,667.3 1076.0,665.6 C1072.8,663.8 1069.6,661.9 1066.5,659.8 C1063.5,657.8 1059.1,654.2 1057.7,653.1" fill="none" stroke="#d0d0d0" stroke-width="1.2" stroke-linecap="round" stroke-linejoin="round" />
<circle cx="1216" cy="603.3" r="1.6" fill="#444"/>
<circle cx="261" cy="606" r="1.5" fill="#555"/>
<path d="M399.3,479.7 C399.5,478.2 398.5,473.9 400.4,470.5 C402.3,467.1 405.1,464.4 410.5,459.3 C415.9,454.2 421.4,450.5 433.0,440.0 C444.6,429.5 470.0,405.5 480.0,396.3 C490.0,387.1 489.2,387.4 493.0,384.6 C496.8,381.8 493.9,376.6 502.7,379.4 C511.5,382.2 536.8,394.4 546.0,401.5 C555.2,408.6 555.5,415.9 557.8,422.0 C560.1,428.1 559.7,433.2 559.7,437.8 C559.7,442.4 560.1,445.3 557.8,449.4 C555.5,453.5 554.6,454.5 546.0,462.4 C537.4,470.3 516.2,487.3 506.0,497.0 C495.8,506.7 490.3,514.3 485.0,520.4 C479.7,526.5 478.2,530.4 474.2,533.6 C470.2,536.8 463.2,538.7 461.0,539.7 Z" fill="#fff" stroke="none"/>
<path d="M402.0,481.0 C401.6,480.7 399.6,480.8 399.3,479.0 C399.0,477.2 399.3,473.2 400.4,470.5 C401.5,467.8 404.0,465.1 406.0,463.0 C408.0,460.9 408.1,461.7 412.6,457.9 C417.1,454.1 421.8,450.3 433.0,440.0 C444.2,429.7 470.0,405.5 480.0,396.3 C490.0,387.1 489.2,387.4 493.0,384.6 C496.8,381.8 501.1,380.3 502.7,379.4" fill="none" stroke="#141414" stroke-width="3.2" stroke-linecap="round" stroke-linejoin="round" />
<path d="M546.0,401.5 C547.3,404.0 551.8,411.7 554.0,416.7 C556.2,421.7 558.5,426.3 559.3,431.5 C560.0,436.7 560.7,442.7 558.5,447.8 C556.3,452.9 548.1,460.0 546.0,462.4" fill="none" stroke="#141414" stroke-width="3.2" stroke-linecap="round" stroke-linejoin="round" />
<path d="M546.0,462.4 C539.3,468.2 516.2,487.3 506.0,497.0 C495.8,506.7 490.3,514.3 485.0,520.4 C479.7,526.5 478.2,530.4 474.2,533.6 C470.2,536.8 463.9,538.9 461.0,539.7 C458.1,540.5 457.7,538.7 457.0,538.5" fill="none" stroke="#141414" stroke-width="3.2" stroke-linecap="round" stroke-linejoin="round" />
<path d="M398.3,484.8 C400.7,486.3 407.3,489.5 412.6,494.0 C417.9,498.5 425.1,506.2 430.2,511.6 C435.3,517.0 440.2,522.3 443.4,526.5 C446.6,530.7 447.8,533.7 449.6,537.0 C451.4,540.3 453.0,543.1 454.3,546.3 C455.6,549.5 457.0,554.4 457.5,556.0" fill="none" stroke="#111" stroke-width="2.8" stroke-linecap="round" stroke-linejoin="round" />
<path d="M408.2,472.0 C410.4,470.2 416.3,462.1 421.4,461.4 C426.5,460.7 432.4,463.6 439.0,467.6 C445.6,471.6 455.1,478.6 461.0,485.2 C466.9,491.8 471.3,500.6 474.2,507.2 C477.1,513.8 478.6,520.0 478.6,524.8 C478.6,529.6 477.1,533.7 474.2,536.2 C471.3,538.7 463.2,539.1 461.0,539.7" fill="none" stroke="#666" stroke-width="2.0" stroke-linecap="round" stroke-linejoin="round" />
<path d="M410.0,476.4 C411.9,475.5 416.6,471.2 421.4,471.1 C426.2,471.0 433.1,472.4 439.0,475.5 C444.9,478.6 451.8,484.3 456.6,489.6 C461.4,494.9 465.8,502.1 468.0,507.2 C470.2,512.3 470.2,516.7 469.8,520.4 C469.4,524.1 466.4,526.3 465.4,529.2 C464.4,532.1 463.9,536.5 463.6,538.0" fill="none" stroke="#1a1a1a" stroke-width="2.8" stroke-linecap="round" stroke-linejoin="round" />
<path d="M406.4,483.4 C408.6,484.4 416.7,487.2 419.6,489.6 C422.5,492.0 423.3,496.2 424.0,497.5" fill="none" stroke="#222" stroke-width="2.6" stroke-linecap="round" stroke-linejoin="round" />
<path d="M424.0,480.0 C426.0,481.7 432.0,486.5 436.0,490.0 C440.0,493.5 444.1,496.2 447.8,501.0 C451.5,505.8 456.3,514.1 458.3,518.6 C460.3,523.1 459.7,526.4 460.0,528.0" fill="none" stroke="#333" stroke-width="2.4" stroke-linecap="round" stroke-linejoin="round" stroke-dasharray="5 3"/>
<path d="M432.0,495.0 C433.5,496.7 437.8,499.3 441.0,505.0 C444.2,510.7 449.6,525.2 451.3,529.2" fill="none" stroke="#555" stroke-width="2.0" stroke-linecap="round" stroke-linejoin="round" stroke-dasharray="4 3"/>
<path d="M398.5,491.3 C399.4,492.8 401.9,496.9 404.0,500.0 C406.1,503.1 408.8,508.0 410.8,509.8 C412.8,511.6 414.5,510.3 416.0,511.0 C417.5,511.7 419.3,513.5 420.0,514.0" fill="none" stroke="#333" stroke-width="2.2" stroke-linecap="round" stroke-linejoin="round" />
<path d="M430.2,529.2 L444.3,538.0" fill="none" stroke="#222" stroke-width="2.4" stroke-linecap="round" stroke-linejoin="round" />
<path d="M417.0,484.0 L425.0,487.0" fill="none" stroke="#777" stroke-width="1.6" stroke-linecap="round" stroke-linejoin="round" />
<path d="M407.7,478.1 C409.3,477.6 414.2,475.1 417.7,475.0 C421.1,475.0 424.9,476.5 428.2,477.8 C431.6,479.1 434.8,480.8 437.9,482.8 C440.9,484.8 443.8,487.3 446.5,489.9 C449.1,492.4 451.6,495.1 453.9,498.0 C456.2,500.9 458.6,504.0 460.2,507.2 C461.8,510.4 463.2,514.0 463.7,517.4 C464.1,520.8 463.1,524.2 462.7,527.6 C462.4,531.0 461.6,536.3 461.3,538.0" fill="none" stroke="#222" stroke-width="2.8" stroke-linecap="round" stroke-linejoin="round" stroke-dasharray="6 3"/>
<path d="M405.3,479.8 C406.9,479.6 411.4,478.3 414.6,478.6 C417.8,479.0 421.2,480.4 424.3,481.9 C427.4,483.3 430.3,485.1 433.0,487.1 C435.8,489.1 438.5,491.5 441.0,493.9 C443.5,496.3 445.9,498.8 448.1,501.5 C450.3,504.2 452.5,507.0 454.2,510.0 C455.9,512.9 457.4,516.1 458.2,519.2 C459.0,522.3 458.7,525.4 458.8,528.5 C459.0,531.6 459.0,536.4 459.0,538.0" fill="none" stroke="#333" stroke-width="2.5" stroke-linecap="round" stroke-linejoin="round" stroke-dasharray="4 3"/>
<path d="M403.0,481.4 C404.4,481.6 408.6,481.5 411.5,482.2 C414.4,482.9 417.6,484.4 420.4,485.9 C423.2,487.4 425.7,489.4 428.2,491.4 C430.7,493.4 433.2,495.6 435.5,497.9 C437.8,500.2 440.1,502.5 442.2,505.0 C444.3,507.4 446.4,510.1 448.2,512.8 C449.9,515.4 451.6,518.3 452.7,521.0 C453.8,523.8 454.2,526.6 454.9,529.4 C455.6,532.3 456.4,536.6 456.8,538.0" fill="none" stroke="#222" stroke-width="2.8" stroke-linecap="round" stroke-linejoin="round" stroke-dasharray="7 3"/>
<path d="M400.6,483.1 C401.9,483.6 405.8,484.7 408.5,485.8 C411.1,486.9 414.0,488.3 416.5,489.9 C419.0,491.6 421.1,493.7 423.4,495.7 C425.6,497.7 427.9,499.8 430.0,501.9 C432.2,504.1 434.3,506.2 436.4,508.5 C438.4,510.7 440.3,513.1 442.2,515.5 C444.0,517.9 445.8,520.4 447.2,522.8 C448.7,525.3 449.8,527.8 451.0,530.3 C452.2,532.9 453.9,536.7 454.5,538.0" fill="none" stroke="#444" stroke-width="2.2" stroke-linecap="round" stroke-linejoin="round" stroke-dasharray="3 3"/>
<path d="M954.5,380.0 C957.8,379.8 968.9,378.2 974.4,378.9 C979.9,379.6 970.4,369.0 987.8,384.4 C1005.2,399.8 1075.9,446.3 1078.9,471.1 C1081.9,495.9 1030.4,535.9 1005.6,533.3 C980.8,530.7 943.9,469.4 930.0,455.6 C916.1,441.8 924.3,453.1 922.2,450.6 C920.1,448.1 918.1,444.5 917.4,440.8 C916.7,437.1 917.1,432.7 918.0,428.3 C918.9,423.9 922.1,416.7 922.9,414.4 Z" fill="#fff" stroke="none"/>
<path d="M954.2,379.0 C955.1,379.3 956.5,381.0 959.7,381.0 C962.9,381.0 969.2,378.8 973.6,379.0 C978.0,379.2 981.6,380.1 986.0,382.5 C990.4,384.9 991.0,385.4 1000.0,393.6 C1009.0,401.9 1029.8,422.6 1040.0,432.0 C1050.2,441.4 1055.6,445.5 1061.0,450.0 C1066.4,454.5 1069.5,455.1 1072.4,458.8 C1075.3,462.5 1077.7,469.1 1078.6,472.0 C1079.5,474.9 1078.5,475.6 1077.7,476.4 C1076.9,477.2 1074.6,476.9 1074.0,477.0" fill="none" stroke="#141414" stroke-width="3.2" stroke-linecap="round" stroke-linejoin="round" />
<path d="M922.9,414.4 C922.1,416.7 918.9,423.9 918.0,428.3 C917.1,432.7 916.7,437.1 917.4,440.8 C918.1,444.5 918.2,445.7 922.2,450.6 C926.2,455.5 932.1,460.1 941.7,470.0 C951.3,479.9 969.4,499.4 980.0,510.0 C990.6,520.5 999.4,528.8 1005.6,533.3 C1011.8,537.8 1014.6,536.5 1017.0,537.0 C1019.4,537.5 1019.5,536.2 1020.0,536.0" fill="none" stroke="#141414" stroke-width="3.2" stroke-linecap="round" stroke-linejoin="round" />
<path d="M1020.0,555.0 C1020.5,553.3 1021.4,549.3 1023.1,545.0 C1024.8,540.7 1026.8,534.8 1030.2,529.2 C1033.6,523.6 1038.3,517.5 1043.4,511.6 C1048.5,505.7 1055.9,498.4 1061.0,494.0 C1066.1,489.6 1070.2,487.4 1074.2,485.2 C1078.2,483.0 1083.2,481.5 1085.0,480.8" fill="none" stroke="#111" stroke-width="2.8" stroke-linecap="round" stroke-linejoin="round" />
<path d="M1017.0,537.0 C1014.1,535.0 1002.0,529.8 999.4,524.8 C996.8,519.8 999.0,513.8 1001.2,507.2 C1003.4,500.6 1007.8,491.8 1012.6,485.2 C1017.4,478.6 1023.6,472.2 1030.2,467.6 C1036.8,463.1 1046.3,459.4 1052.2,457.9 C1058.1,456.4 1061.5,457.2 1065.4,458.8 C1069.4,460.4 1073.9,464.7 1075.9,467.6 C1078.0,470.5 1077.4,474.9 1077.7,476.4" fill="none" stroke="#555" stroke-width="2.0" stroke-linecap="round" stroke-linejoin="round" />
<path d="M1015.2,529.2 C1014.2,527.0 1009.4,521.1 1009.0,516.0 C1008.6,510.9 1009.8,504.6 1012.6,498.4 C1015.4,492.2 1020.7,483.7 1025.8,479.0 C1030.9,474.3 1037.5,471.8 1043.4,470.2 C1049.3,468.6 1056.6,468.6 1061.0,469.3 C1065.4,470.0 1068.3,473.7 1069.8,474.6" fill="none" stroke="#1a1a1a" stroke-width="2.8" stroke-linecap="round" stroke-linejoin="round" />
<path d="M1018.7,516.8 C1019.9,513.7 1022.4,504.0 1025.8,498.4 C1029.2,492.8 1034.6,487.1 1039.0,483.4 C1043.4,479.7 1050.0,477.6 1052.2,476.4" fill="none" stroke="#333" stroke-width="2.4" stroke-linecap="round" stroke-linejoin="round" stroke-dasharray="5 3"/>
<path d="M1025.8,527.4 C1027.3,524.0 1030.2,513.5 1034.6,507.2 C1039.0,500.9 1046.3,494.0 1052.2,489.6 C1058.1,485.2 1066.9,482.3 1069.8,480.8" fill="none" stroke="#555" stroke-width="2.0" stroke-linecap="round" stroke-linejoin="round" stroke-dasharray="4 3"/>
<path d="M1065.4,507.2 L1077.7,489.6" fill="none" stroke="#333" stroke-width="2.2" stroke-linecap="round" stroke-linejoin="round" />
<path d="M1056.6,507.2 C1056.9,507.9 1057.1,511.0 1058.3,511.6 C1059.5,512.2 1061.6,511.8 1063.6,510.7 C1065.5,509.6 1068.9,505.9 1070.0,505.0" fill="none" stroke="#333" stroke-width="2.0" stroke-linecap="round" stroke-linejoin="round" />
<path d="M1034.6,534.4 L1047.8,526.5" fill="none" stroke="#222" stroke-width="2.4" stroke-linecap="round" stroke-linejoin="round" />
<path d="M1065.4,513.3 L1078.6,526.5" fill="none" stroke="#666" stroke-width="1.6" stroke-linecap="round" stroke-linejoin="round" />
<path d="M1016.8,531.4 C1016.3,529.7 1014.1,524.9 1013.9,521.5 C1013.6,518.1 1014.4,514.6 1015.2,511.2 C1016.0,507.7 1017.1,504.1 1018.8,500.9 C1020.4,497.7 1022.9,494.8 1025.1,491.9 C1027.3,489.0 1029.2,485.8 1031.9,483.4 C1034.7,481.1 1038.2,479.6 1041.5,478.0 C1044.7,476.5 1048.1,475.2 1051.5,474.3 C1055.0,473.4 1058.8,472.5 1062.2,472.8 C1065.6,473.1 1070.2,475.5 1071.8,476.1" fill="none" stroke="#222" stroke-width="2.8" stroke-linecap="round" stroke-linejoin="round" stroke-dasharray="6 3"/>
<path d="M1018.4,533.5 C1018.2,532.0 1017.2,527.4 1017.4,524.2 C1017.7,521.1 1018.7,517.8 1019.8,514.6 C1020.8,511.4 1022.1,508.1 1023.8,505.1 C1025.5,502.1 1027.8,499.3 1029.9,496.5 C1032.1,493.8 1034.1,490.8 1036.7,488.6 C1039.3,486.3 1042.5,484.6 1045.5,482.9 C1048.5,481.2 1051.6,479.7 1054.8,478.6 C1058.0,477.5 1061.5,476.4 1064.7,476.3 C1067.9,476.1 1072.3,477.3 1073.9,477.6" fill="none" stroke="#333" stroke-width="2.5" stroke-linecap="round" stroke-linejoin="round" stroke-dasharray="4 3"/>
<path d="M1019.9,535.7 C1020.1,534.2 1020.3,529.9 1021.0,526.9 C1021.7,524.0 1023.0,521.0 1024.3,518.0 C1025.6,515.1 1027.1,512.1 1028.8,509.3 C1030.6,506.4 1032.7,503.7 1034.8,501.2 C1036.9,498.6 1039.0,495.9 1041.5,493.7 C1043.9,491.5 1046.7,489.6 1049.5,487.8 C1052.2,486.0 1055.1,484.3 1058.0,483.0 C1061.0,481.6 1064.2,480.4 1067.2,479.7 C1070.2,479.0 1074.5,479.2 1075.9,479.0" fill="none" stroke="#222" stroke-width="2.8" stroke-linecap="round" stroke-linejoin="round" stroke-dasharray="7 3"/>
<path d="M1021.5,537.8 C1022.0,536.5 1023.3,532.4 1024.6,529.6 C1025.8,526.9 1027.3,524.2 1028.9,521.5 C1030.4,518.8 1032.1,516.0 1033.9,513.4 C1035.7,510.8 1037.6,508.2 1039.7,505.8 C1041.8,503.4 1044.0,501.0 1046.3,498.8 C1048.6,496.6 1051.0,494.5 1053.5,492.6 C1056.0,490.7 1058.6,488.9 1061.2,487.3 C1063.9,485.7 1066.8,484.3 1069.6,483.2 C1072.4,482.0 1076.6,481.0 1078.0,480.5" fill="none" stroke="#444" stroke-width="2.2" stroke-linecap="round" stroke-linejoin="round" stroke-dasharray="3 3"/>
</svg>
</body></html>
